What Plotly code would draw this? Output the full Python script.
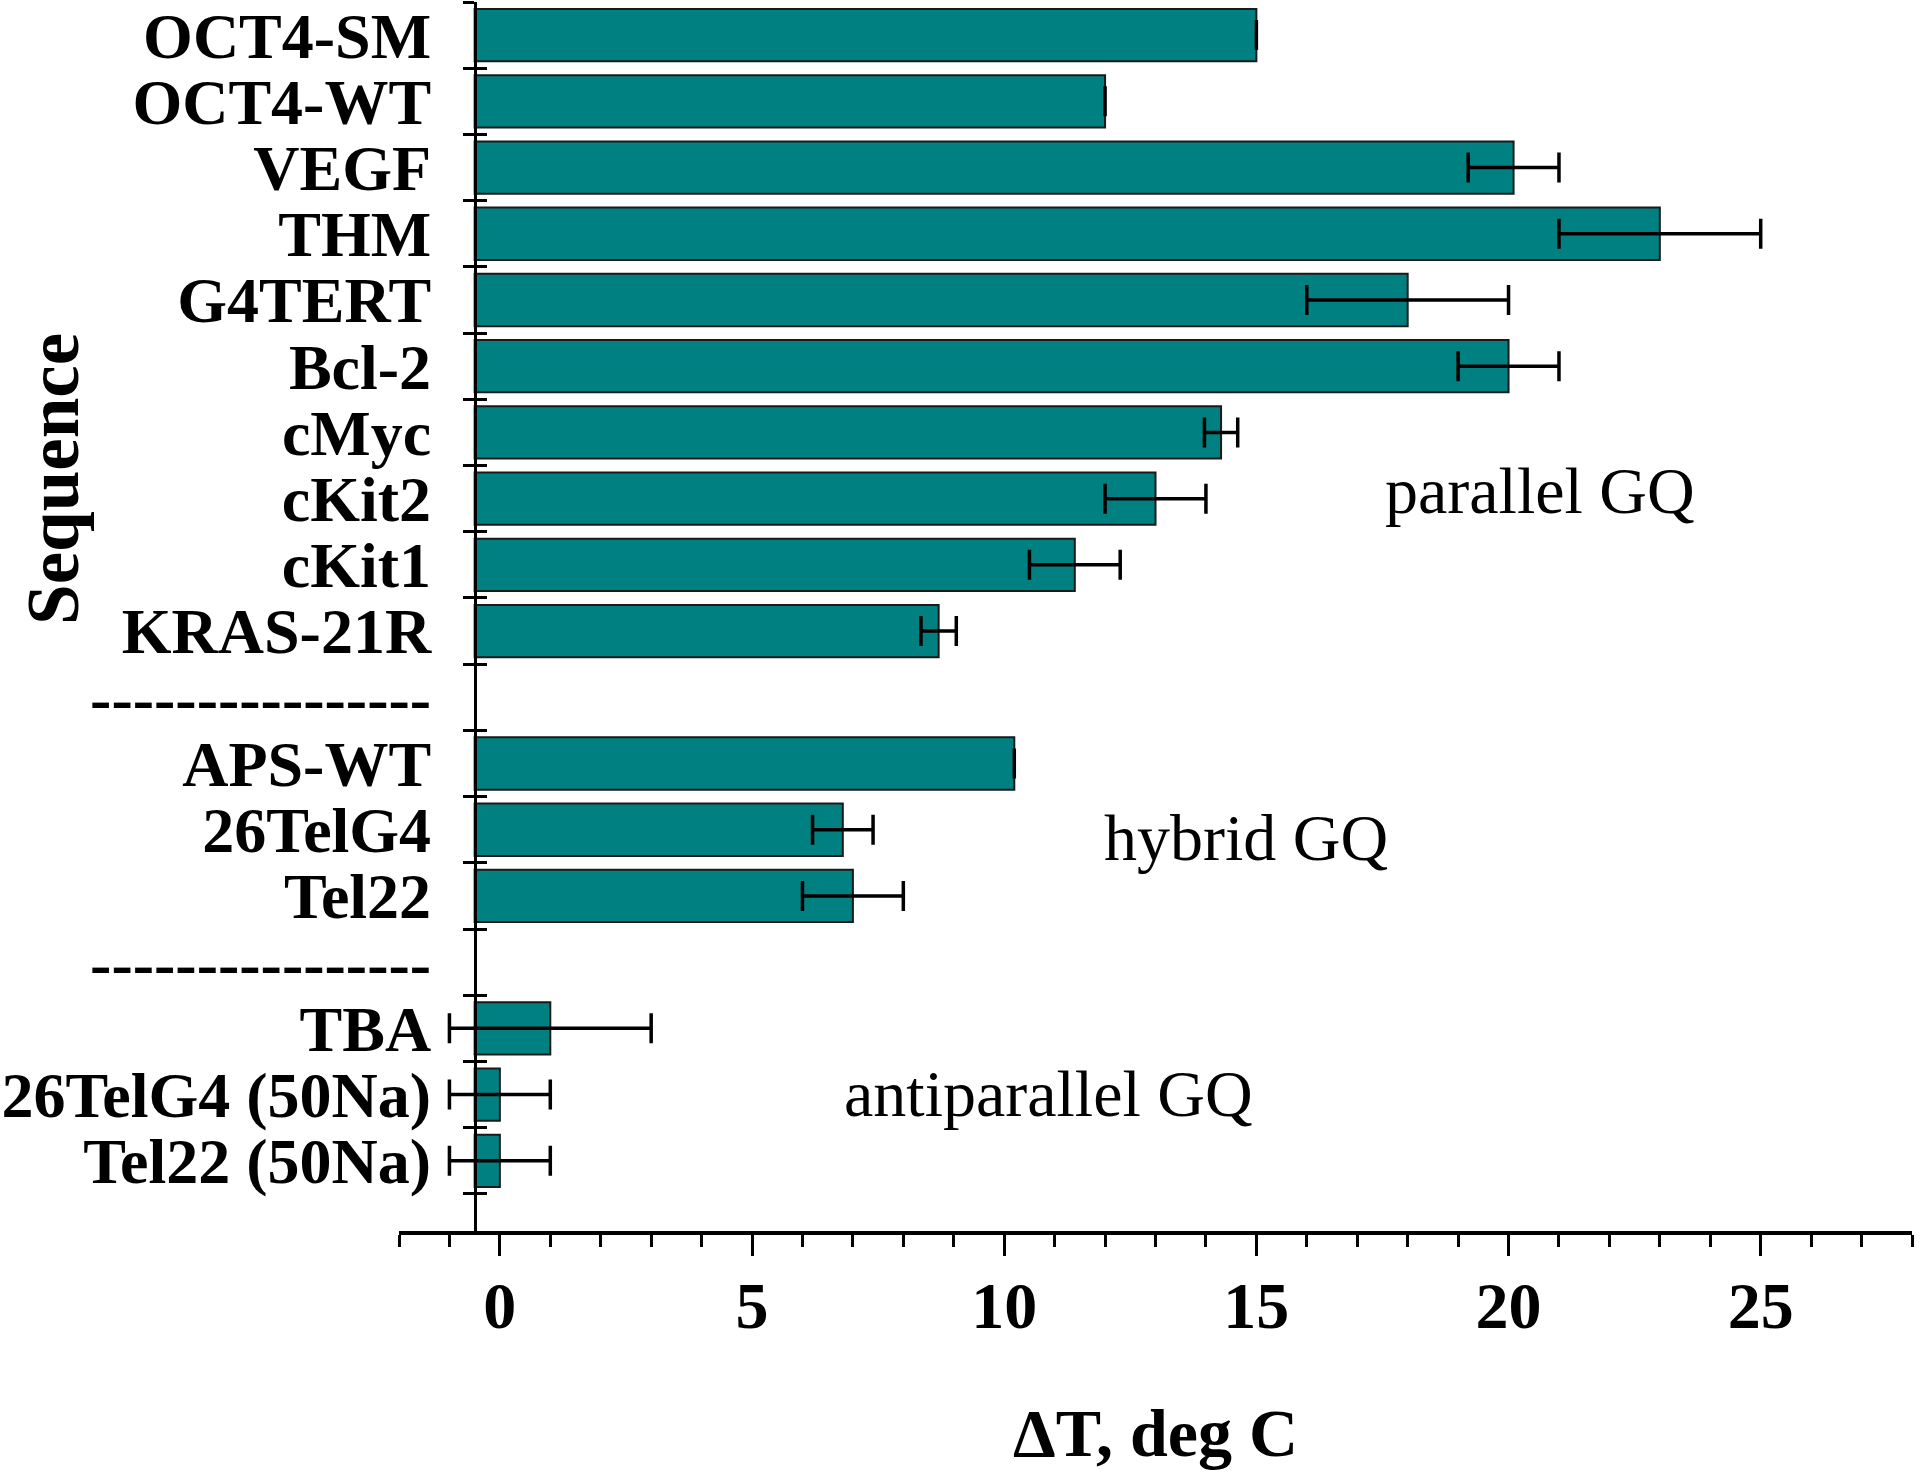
import plotly.graph_objects as go

# ---------------- data ----------------
categories = [
    "OCT4-SM", "OCT4-WT", "VEGF", "THM", "G4TERT", "Bcl-2", "cMyc", "cKit2",
    "cKit1", "KRAS-21R",
    "APS-WT", "26TelG4", "Tel22",
    "TBA", "26TelG4 (50Na)", "Tel22 (50Na)",
]
delta_t = [15.0, 12.0, 20.1, 23.0, 18.0, 20.0, 14.3, 13.0, 11.4, 8.7,
           10.2, 6.8, 7.0,
           1.0, 0.0, 0.0]
delta_t_err = [None, None, 0.9, 2.0, 2.0, 1.0, 0.33, 1.0, 0.9, 0.35,
               None, 0.6, 1.0,
               2.0, 1.0, 1.0]
group_sizes = [10, 3, 3]
group_labels = ["parallel GQ", "hybrid GQ", "antiparallel GQ"]
separator_label = "-" * 16
x_tick_values = [0, 5, 10, 15, 20, 25]
bar_base = -0.5

# ---------------- layout of category slots ----------------
positions, sep_positions = [], []
pos = 0
for gi, n in enumerate(group_sizes):
    if gi > 0:
        sep_positions.append(pos)
        pos += 1
    for _ in range(n):
        positions.append(pos)
        pos += 1
n_slots = pos
boundaries = [k - 0.5 for k in range(n_slots + 1)]

tickvals = positions + sep_positions
ticktext = categories + [separator_label] * len(sep_positions)

SERIF = "Liberation Serif"
TEAL = "#008080"

fig = go.Figure()
fig.add_trace(go.Bar(
    orientation="h",
    y=positions,
    x=[v - bar_base for v in delta_t],
    base=bar_base,
    width=0.79,
    marker=dict(color=TEAL, line=dict(color="#1a1a1a", width=2)),
    error_x=dict(type="data", array=delta_t_err, visible=True,
                 color="black", thickness=3.5, width=15),
    showlegend=False,
    hoverinfo="skip",
))
# invisible helper trace for the overlay axes (long major x ticks, inside y ticks)
fig.add_trace(go.Scatter(x=[0], y=[0], xaxis="x2", yaxis="y2", mode="markers",
                         marker=dict(opacity=0), showlegend=False,
                         hoverinfo="skip"))

x_range = [-2, 28]
y_range = [18.06, -0.5]
yaxis_pos = (bar_base - x_range[0]) / (x_range[1] - x_range[0])

fig.update_layout(
    width=1920, height=1475,
    margin=dict(l=395, r=8, t=1, b=244),
    plot_bgcolor="white", paper_bgcolor="white",
    xaxis=dict(
        range=x_range, showgrid=False, zeroline=False,
        showline=True, linewidth=4, linecolor="black",
        tickmode="array", tickvals=x_tick_values,
        ticks="outside", ticklen=12, tickwidth=3, tickcolor="black",
        minor=dict(tickmode="linear", tick0=0, dtick=1, ticks="outside",
                   ticklen=12, tickwidth=3, tickcolor="black"),
        tickfont=dict(family=SERIF, size=66, color="black", weight="bold"),
        ticklabelstandoff=2,
    ),
    xaxis2=dict(
        range=x_range, overlaying="x", anchor="free", position=0,
        showgrid=False, zeroline=False, showline=False,
        tickmode="array", tickvals=x_tick_values, showticklabels=False,
        ticks="outside", ticklen=24, tickwidth=3, tickcolor="black",
    ),
    yaxis=dict(
        range=y_range, anchor="free", position=yaxis_pos,
        showgrid=False, zeroline=False,
        showline=True, linewidth=2.5, linecolor="black",
        tickmode="array", tickvals=tickvals, ticktext=ticktext,
        ticks="", ticklabelstandoff=30, ticklabeloverflow="allow",
        minor=dict(tickmode="array", tickvals=boundaries, ticks="outside",
                   ticklen=11, tickwidth=3, tickcolor="black"),
        tickfont=dict(family=SERIF, size=64, color="black", weight="bold"),
    ),
    yaxis2=dict(
        range=y_range, overlaying="y", anchor="free", position=yaxis_pos,
        showgrid=False, zeroline=False, showline=False,
        tickmode="array", tickvals=boundaries, showticklabels=False,
        ticks="inside", ticklen=11, tickwidth=3, tickcolor="black",
    ),
)

# group labels
label_xy = [(20.63, 6.88), (14.79, 12.11), (10.87, 15.99)]
for text, (lx, ly) in zip(group_labels, label_xy):
    fig.add_annotation(x=lx, y=ly, xref="x", yref="y", text=text,
                       showarrow=False, xanchor="center", yanchor="middle",
                       font=dict(family=SERIF, size=66, color="black"))

# axis titles
fig.add_annotation(x=0.5, y=-0.164, xref="paper", yref="paper",
                   text="ΔT, deg C", showarrow=False,
                   xanchor="center", yanchor="middle",
                   font=dict(family=SERIF, size=68, color="black", weight="bold"))
fig.add_annotation(x=-0.228, y=0.612, xref="paper", yref="paper",
                   text="Sequence", showarrow=False, textangle=-90,
                   xanchor="center", yanchor="middle",
                   font=dict(family=SERIF, size=73, color="black", weight="bold"))

fig.write_html("out.html", config={"displayModeBar": False},
               post_script="document.body.style.margin='0';")
